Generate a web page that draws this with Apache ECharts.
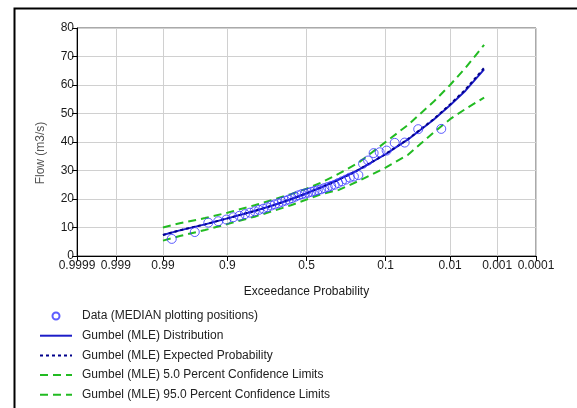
<!DOCTYPE html>
<html>
<head>
<meta charset="utf-8">
<script src="https://cdn.jsdelivr.net/npm/echarts@6/dist/echarts.min.js"></script>
<style>
html, body { margin: 0; padding: 0; background: #fff; }
#chart { width: 577px; height: 408px; }
</style>
</head>
<body>
<div id="chart"></div>
<script>
// axis ticks (exceedance probability, normal probability scale)
var tickProbs = [0.9999, 0.999, 0.99, 0.9, 0.5, 0.1, 0.01, 0.001, 0.0001];
var tickLabels = ['0.9999', '0.999', '0.99', '0.9', '0.5', '0.1', '0.01', '0.001', '0.0001'];

// observed data, median plotting positions
var dataProbs = [0.0145, 0.0351, 0.0558, 0.0764, 0.0971, 0.1178, 0.1384, 0.1591, 0.1798, 0.2004,
    0.2211, 0.2417, 0.2624, 0.2831, 0.3037, 0.3244, 0.3450, 0.3657, 0.3864, 0.4070,
    0.4277, 0.4483, 0.4690, 0.4897, 0.5103, 0.5310, 0.5517, 0.5723, 0.5930, 0.6136,
    0.6343, 0.6550, 0.6756, 0.6963, 0.7169, 0.7376, 0.7583, 0.7789, 0.7996, 0.8202,
    0.8409, 0.8616, 0.8822, 0.9029, 0.9236, 0.9442, 0.9649, 0.9855];
var dataFlows = [44.6, 44.5, 39.8, 39.7, 37.0, 36.4, 36.1, 33.5, 32.4, 28.4,
    27.9, 27.5, 26.8, 26.2, 25.6, 25.0, 24.6, 24.2, 23.8, 23.4,
    23.1, 22.8, 22.5, 22.2, 21.9, 21.7, 21.3, 20.8, 20.3, 19.8,
    19.4, 19.0, 18.5, 18.1, 17.7, 17.1, 16.6, 16.2, 15.7, 15.2,
    14.7, 14.1, 13.6, 12.8, 12.2, 11.7, 8.4, 6.0];

// fitted curves
var curveProbs = [0.99, 0.98, 0.95, 0.9, 0.8, 0.7, 0.6, 0.5, 0.4, 0.3, 0.2, 0.1, 0.05, 0.02, 0.01, 0.005, 0.002];
var fitFlows   = [7.4, 9.0, 11.1, 13.2, 15.8, 17.9, 19.9, 22.0, 24.2, 26.8, 30.2, 35.7, 40.9, 47.7, 52.9, 58.0, 65.5];
var expFlows   = [7.4, 9.0, 11.1, 13.2, 15.8, 17.9, 19.9, 22.0, 24.2, 26.8, 30.2, 35.8, 41.0, 47.9, 53.2, 58.4, 66.0];
var upperFlows = [10.0, 11.5, 13.3, 15.2, 17.8, 19.9, 21.7, 23.6, 25.9, 28.9, 32.7, 40.0, 46.0, 54.0, 60.0, 66.0, 74.1];
var lowerFlows = [5.4, 7.0, 9.1, 11.2, 13.8, 15.9, 17.8, 19.8, 21.8, 23.2, 26.3, 31.0, 35.5, 43.2, 48.0, 51.6, 55.6];

// inverse standard normal (Acklam)
function probit(p) {
    var a = [-39.69683028665376, 220.9460984245205, -275.9285104469687, 138.3577518672690, -30.66479806614716, 2.506628277459239];
    var b = [-54.47609879822406, 161.5858368580409, -155.6989798598866, 66.80131188771972, -13.28068155288572];
    var c = [-0.007784894002430293, -0.3223964580411365, -2.400758277161838, -2.549732539343734, 4.374664141464968, 2.938163982698783];
    var d = [0.007784695709041462, 0.3224671290700398, 2.445134137142996, 3.754408661907416];
    var q, r;
    if (p < 0.02425) {
        q = Math.sqrt(-2 * Math.log(p));
        return (((((c[0] * q + c[1]) * q + c[2]) * q + c[3]) * q + c[4]) * q + c[5]) / ((((d[0] * q + d[1]) * q + d[2]) * q + d[3]) * q + 1);
    }
    if (p > 1 - 0.02425) {
        q = Math.sqrt(-2 * Math.log(1 - p));
        return -(((((c[0] * q + c[1]) * q + c[2]) * q + c[3]) * q + c[4]) * q + c[5]) / ((((d[0] * q + d[1]) * q + d[2]) * q + d[3]) * q + 1);
    }
    q = p - 0.5;
    r = q * q;
    return (((((a[0] * r + a[1]) * r + a[2]) * r + a[3]) * r + a[4]) * r + a[5]) * q / (((((b[0] * r + b[1]) * r + b[2]) * r + b[3]) * r + b[4]) * r + 1);
}
// exceedance probability -> axis position
function toX(p) { return probit(1 - p); }

function pairs(probs, vals) {
    return probs.map(function (p, i) { return [toX(p), vals[i]]; });
}

var tickX = tickProbs.map(toX);
var font = 'Arial, "Liberation Sans", sans-serif';
var green = '#22bb22';
var noSymbol = { opacity: 0 };

var myChart = echarts.init(document.getElementById('chart'));
var option = {
    animation: false,
    textStyle: { fontFamily: font },
    grid: {
        left: 77, right: 41, top: 28, bottom: 152,
        show: true, borderColor: '#555', borderWidth: 1,
        outerBoundsMode: 'none'
    },
    legend: {
        orient: 'vertical',
        left: 39, top: 309,
        padding: 0,
        itemWidth: 32, itemHeight: 7, itemGap: 5.7,
        textStyle: { fontSize: 12, color: '#222', fontFamily: font, lineHeight: 14, padding: [0, 0, 0, 5] },
        data: [
            { name: 'Data (MEDIAN plotting positions)', icon: 'circle' },
            { name: 'Gumbel (MLE) Distribution', itemStyle: noSymbol },
            { name: 'Gumbel (MLE) Expected Probability', itemStyle: noSymbol },
            { name: 'Gumbel (MLE) 5.0 Percent Confidence Limits', itemStyle: noSymbol },
            { name: 'Gumbel (MLE) 95.0 Percent Confidence Limits', itemStyle: noSymbol }
        ]
    },
    xAxis: {
        type: 'value',
        min: toX(0.9999),
        max: toX(0.0001),
        name: 'Exceedance Probability',
        nameLocation: 'middle',
        nameGap: 30,
        nameTextStyle: { fontSize: 12, color: '#1a1a1a' },
        axisLine: { onZero: false, lineStyle: { color: '#000', width: 1 } },
        axisTick: { show: true, length: 5, customValues: tickX, lineStyle: { color: '#000' } },
        axisLabel: {
            customValues: tickX,
            margin: 4,
            fontSize: 12,
            color: '#1a1a1a',
            formatter: function (v) {
                var best = 0;
                for (var i = 1; i < tickX.length; i++) {
                    if (Math.abs(tickX[i] - v) < Math.abs(tickX[best] - v)) best = i;
                }
                return tickLabels[best];
            }
        },
        splitLine: { show: true, lineStyle: { color: '#d0d0d0' } }
    },
    yAxis: {
        type: 'value',
        min: 0, max: 80, interval: 10,
        name: 'Flow (m3/s)',
        nameLocation: 'middle',
        nameGap: 30,
        nameTextStyle: { fontSize: 12, color: '#555', padding: [0, 22, 0, 0] },
        axisLine: { show: true, onZero: false, lineStyle: { color: '#000', width: 1 } },
        axisTick: { show: true, length: 5, lineStyle: { color: '#000' } },
        axisLabel: { margin: 3, fontSize: 12, color: '#1a1a1a' },
        splitLine: { show: true, lineStyle: { color: '#d0d0d0' } }
    },
    graphic: [{
        type: 'rect',
        left: 12, top: 6,
        shape: { width: 620, height: 460 },
        style: { fill: 'none', stroke: '#000', lineWidth: 2 },
        silent: true
    }],
    series: [
        {
            name: 'Data (MEDIAN plotting positions)',
            type: 'scatter',
            symbol: 'circle',
            symbolSize: 9,
            itemStyle: { color: 'transparent', borderColor: '#3535ff', borderWidth: 1 },
            data: pairs(dataProbs, dataFlows),
            z: 3
        },
        {
            name: 'Gumbel (MLE) Distribution',
            type: 'line',
            symbol: 'none',
            color: '#1c1cc8',
            lineStyle: { color: '#1c1cc8', width: 2 },
            data: pairs(curveProbs, fitFlows)
        },
        {
            name: 'Gumbel (MLE) Expected Probability',
            type: 'line',
            symbol: 'none',
            color: '#00008b',
            lineStyle: { color: '#00008b', width: 2, type: [3, 3] },
            data: pairs(curveProbs, expFlows)
        },
        {
            name: 'Gumbel (MLE) 5.0 Percent Confidence Limits',
            type: 'line',
            symbol: 'none',
            color: green,
            lineStyle: { color: green, width: 2, type: [8, 5] },
            data: pairs(curveProbs, upperFlows)
        },
        {
            name: 'Gumbel (MLE) 95.0 Percent Confidence Limits',
            type: 'line',
            symbol: 'none',
            color: green,
            lineStyle: { color: green, width: 2, type: [8, 5] },
            data: pairs(curveProbs, lowerFlows)
        }
    ]
};
myChart.setOption(option);
</script>
</body>
</html>
